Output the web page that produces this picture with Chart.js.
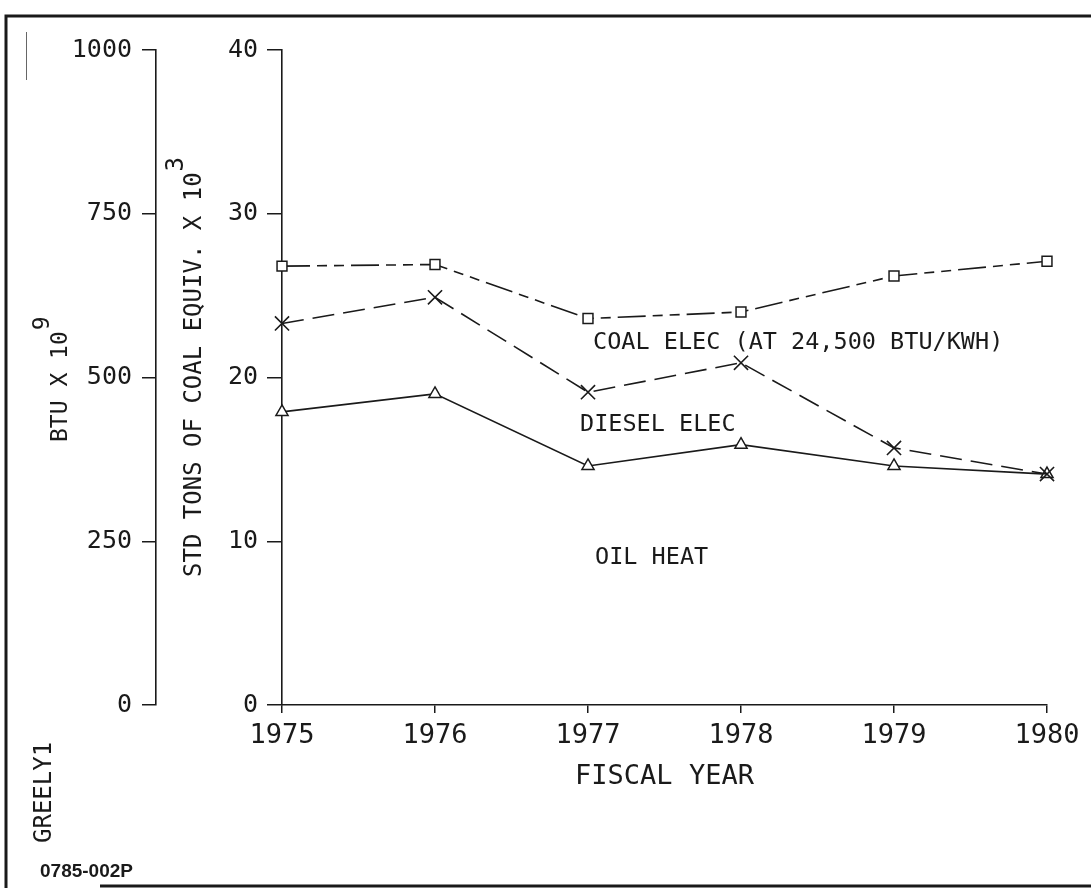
<!DOCTYPE html>
<html>
<head>
<meta charset="utf-8">
<script src="https://cdn.jsdelivr.net/npm/chart.js@4/dist/chart.umd.min.js"></script>
<style>
html,body{margin:0;padding:0;background:#fff;}
#wrap{width:1091px;height:888px;position:relative;}
</style>
</head>
<body>
<div id="wrap"><canvas id="fuelChart"></canvas></div>
<script>

/* Data */

const years=["1975","1976","1977","1978","1979","1980"];

const coalElec=[26.8,26.9,23.6,24.0,26.2,27.1];

const dieselElec=[23.3,24.9,19.1,20.9,15.7,14.1];

const oilHeat=[17.9,19.0,14.6,15.9,14.6,14.1];

const tonsTicks=[0,10,20,30,40];

const btuTicks=[0,250,500,750,1000];

/* series labels: [text, year index, value] */
const seriesLabels=[
["COAL ELEC (AT 24,500 BTU/KWH)",2,22.1],
["DIESEL ELEC",2,17.1],
["OIL HEAT",2,9.0]
];

const ink="#1a1a1a";
const mono="'DejaVu Sans Mono', monospace";

/* Extra drawing: frame, rotated titles, series labels */

const plotterText={
id:"plotterText",
afterDraw(chart){
const ctx=chart.ctx;
const x=chart.scales.x;
const y=chart.scales.y;
const btu=chart.scales.btu;

ctx.save();
ctx.fillStyle=ink;
ctx.strokeStyle=ink;

/* frame */
ctx.lineWidth=3;
ctx.beginPath();
ctx.moveTo(6,888);
ctx.lineTo(6,16);
ctx.lineTo(1091,16);
ctx.moveTo(100,886);
ctx.lineTo(1091,886);
ctx.stroke();
ctx.lineWidth=1;
ctx.strokeStyle="#666";
ctx.beginPath();
ctx.moveTo(26.5,32);
ctx.lineTo(26.5,80);
ctx.stroke();

/* series labels */
ctx.font="23.5px "+mono;
ctx.textBaseline="middle";
ctx.textAlign="left";
const shift=[5,-8,7];
seriesLabels.forEach((l,i)=>{
ctx.fillText(l[0],x.getPixelForValue(l[1])+shift[i],y.getPixelForValue(l[2]));
});

/* rotated titles with superscripts */
const rot=(txt,sup,cx,by,size)=>{
ctx.save();
ctx.font=size+"px "+mono;
ctx.translate(cx,by);
ctx.rotate(-Math.PI/2);
ctx.textAlign="left";
ctx.textBaseline="middle";
ctx.fillText(txt,0,0);
if(sup){
const w=ctx.measureText(txt).width;
ctx.fillText(sup,w+1,-18);
}
ctx.restore();
};

rot("STD TONS OF COAL EQUIV. X 10","3",y.left+39,y.bottom-128,24);
rot("BTU X 10","9",btu.left+51,y.bottom-263,23);
rot("GREELY1","",45,843,24);

ctx.font="bold 19px 'Liberation Sans', Arial, sans-serif";
ctx.textAlign="left";
ctx.fillText("0785-002P",40,872);

ctx.restore();
}
};

/* Chart */

new Chart(document.getElementById("fuelChart"),{

type:"line",

data:{
labels:years,
datasets:[
{
label:"Coal elec",
data:coalElec,
borderColor:ink,
borderWidth:1.6,
borderDash:[28,7,10,7,10,7],
pointStyle:"rect",
pointRadius:7,
pointBorderWidth:1.5,
pointBackgroundColor:"#fff",
pointBorderColor:ink,
tension:0
},
{
label:"Diesel elec",
data:dieselElec,
borderColor:ink,
borderWidth:1.6,
borderDash:[22,9],
pointStyle:"crossRot",
pointRadius:10,
pointBorderWidth:1.6,
pointBorderColor:ink,
tension:0
},
{
label:"Oil heat",
data:oilHeat,
borderColor:ink,
borderWidth:1.6,
pointStyle:"triangle",
pointRadius:7,
pointBorderWidth:1.5,
pointBackgroundColor:"#fff",
pointBorderColor:ink,
tension:0
}
]
},

options:{
responsive:true,
maintainAspectRatio:false,
animation:false,
layout:{padding:{left:10,top:50,right:44,bottom:0}},
plugins:{
legend:{display:false},
tooltip:{enabled:false}
},
scales:{
x:{
offset:false,
grid:{offset:false,drawOnChartArea:false,tickLength:8,color:ink,lineWidth:1.5},
border:{color:ink,width:1.6},
ticks:{color:ink,font:{family:mono,size:27},padding:7,maxRotation:0},
title:{display:true,text:"FISCAL YEAR",color:ink,font:{family:mono,size:27},padding:{top:0,bottom:95}},
afterFit(s){s.height=183;}
},
y:{
position:"left",
weight:0,
min:0,
max:40,
afterBuildTicks(s){s.ticks=tonsTicks.map(v=>({value:v}));},
grid:{drawOnChartArea:false,tickLength:15,color:ink,lineWidth:1.5},
border:{color:ink,width:1.6},
ticks:{color:ink,font:{family:mono,size:25},padding:9,callback:v=>String(v)},
afterFit(s){s.width=126;}
},
btu:{
position:"left",
weight:1,
min:0,
max:1000,
afterBuildTicks(s){s.ticks=btuTicks.map(v=>({value:v}));},
grid:{drawOnChartArea:false,tickLength:14,color:ink,lineWidth:1.5},
border:{color:ink,width:1.6},
ticks:{color:ink,font:{family:mono,size:25},padding:10,callback:v=>String(v)},
afterFit(s){s.width=146;}
}
}
},

plugins:[plotterText]

});

</script>
</body>
</html>
